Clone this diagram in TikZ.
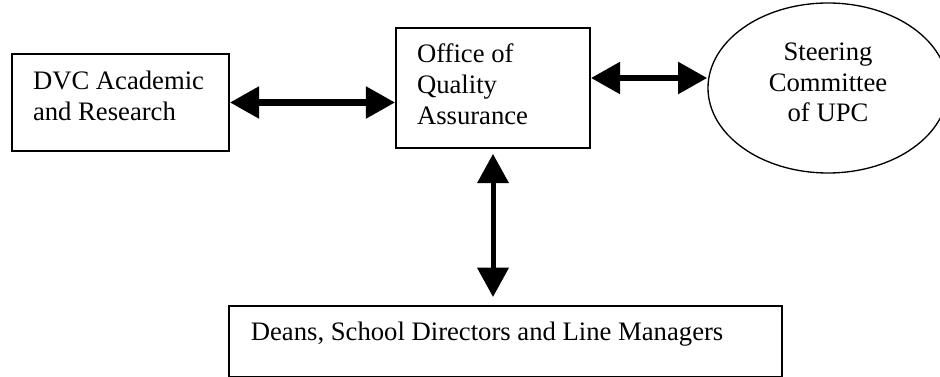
\documentclass[tikz,border=0pt]{standalone}
\usepackage{fontspec}
\setmainfont{Liberation Serif}
\usepackage{tikz}
\usetikzlibrary{arrows.meta}
\usetikzlibrary{shapes.geometric}

\tikzset{
  unitbox/.style={draw, rectangle, line width=1.3pt, align=flush left, inner ysep=0pt, inner xsep=15.75pt},
  link/.style={{Triangle[length=22pt,width=23pt]}-{Triangle[length=22pt,width=23pt]}, line width=5pt},
}

\begin{document}
\begin{tikzpicture}[x=0.75pt, y=-0.75pt, font=\fontsize{20}{23}\selectfont]
        \useasboundingbox (0,0) rectangle (940,377);
        \node[unitbox, text width=131.25pt, text height=27pt, text depth=45.75pt] (dvc) at (120.5,102.5) {DVC Academic\\and Research};
        \node[unitbox, text width=114pt, text height=26.25pt, text depth=63.75pt] (office) at (493,88) {Office of\\Quality\\Assurance};
        \node[draw, ellipse, line width=1pt, minimum width=180pt, minimum height=127.5pt, inner sep=0pt, align=center, text height=51pt, text depth=0pt] (steer) at (828,88) {Steering\\Committee\\of UPC};
        \node[unitbox, anchor=north west, text width=381.75pt, inner xsep=16.5pt, inner ysep=8pt, text height=18.25pt, text depth=19pt] (deans) at (228,305) {Deans, School Directors and Line Managers};
        \draw[link] (dvc.east) -- (dvc.east -| office.west);
        \draw[link] ([yshift=7.5pt]office.east) -- ([yshift=7.5pt]office.east -| steer.west);
        \draw[link, line width=3.75pt, shorten <=3.75pt, shorten >=6pt] (office.south) -- (office.south |- deans.north);
\end{tikzpicture}
\end{document}
